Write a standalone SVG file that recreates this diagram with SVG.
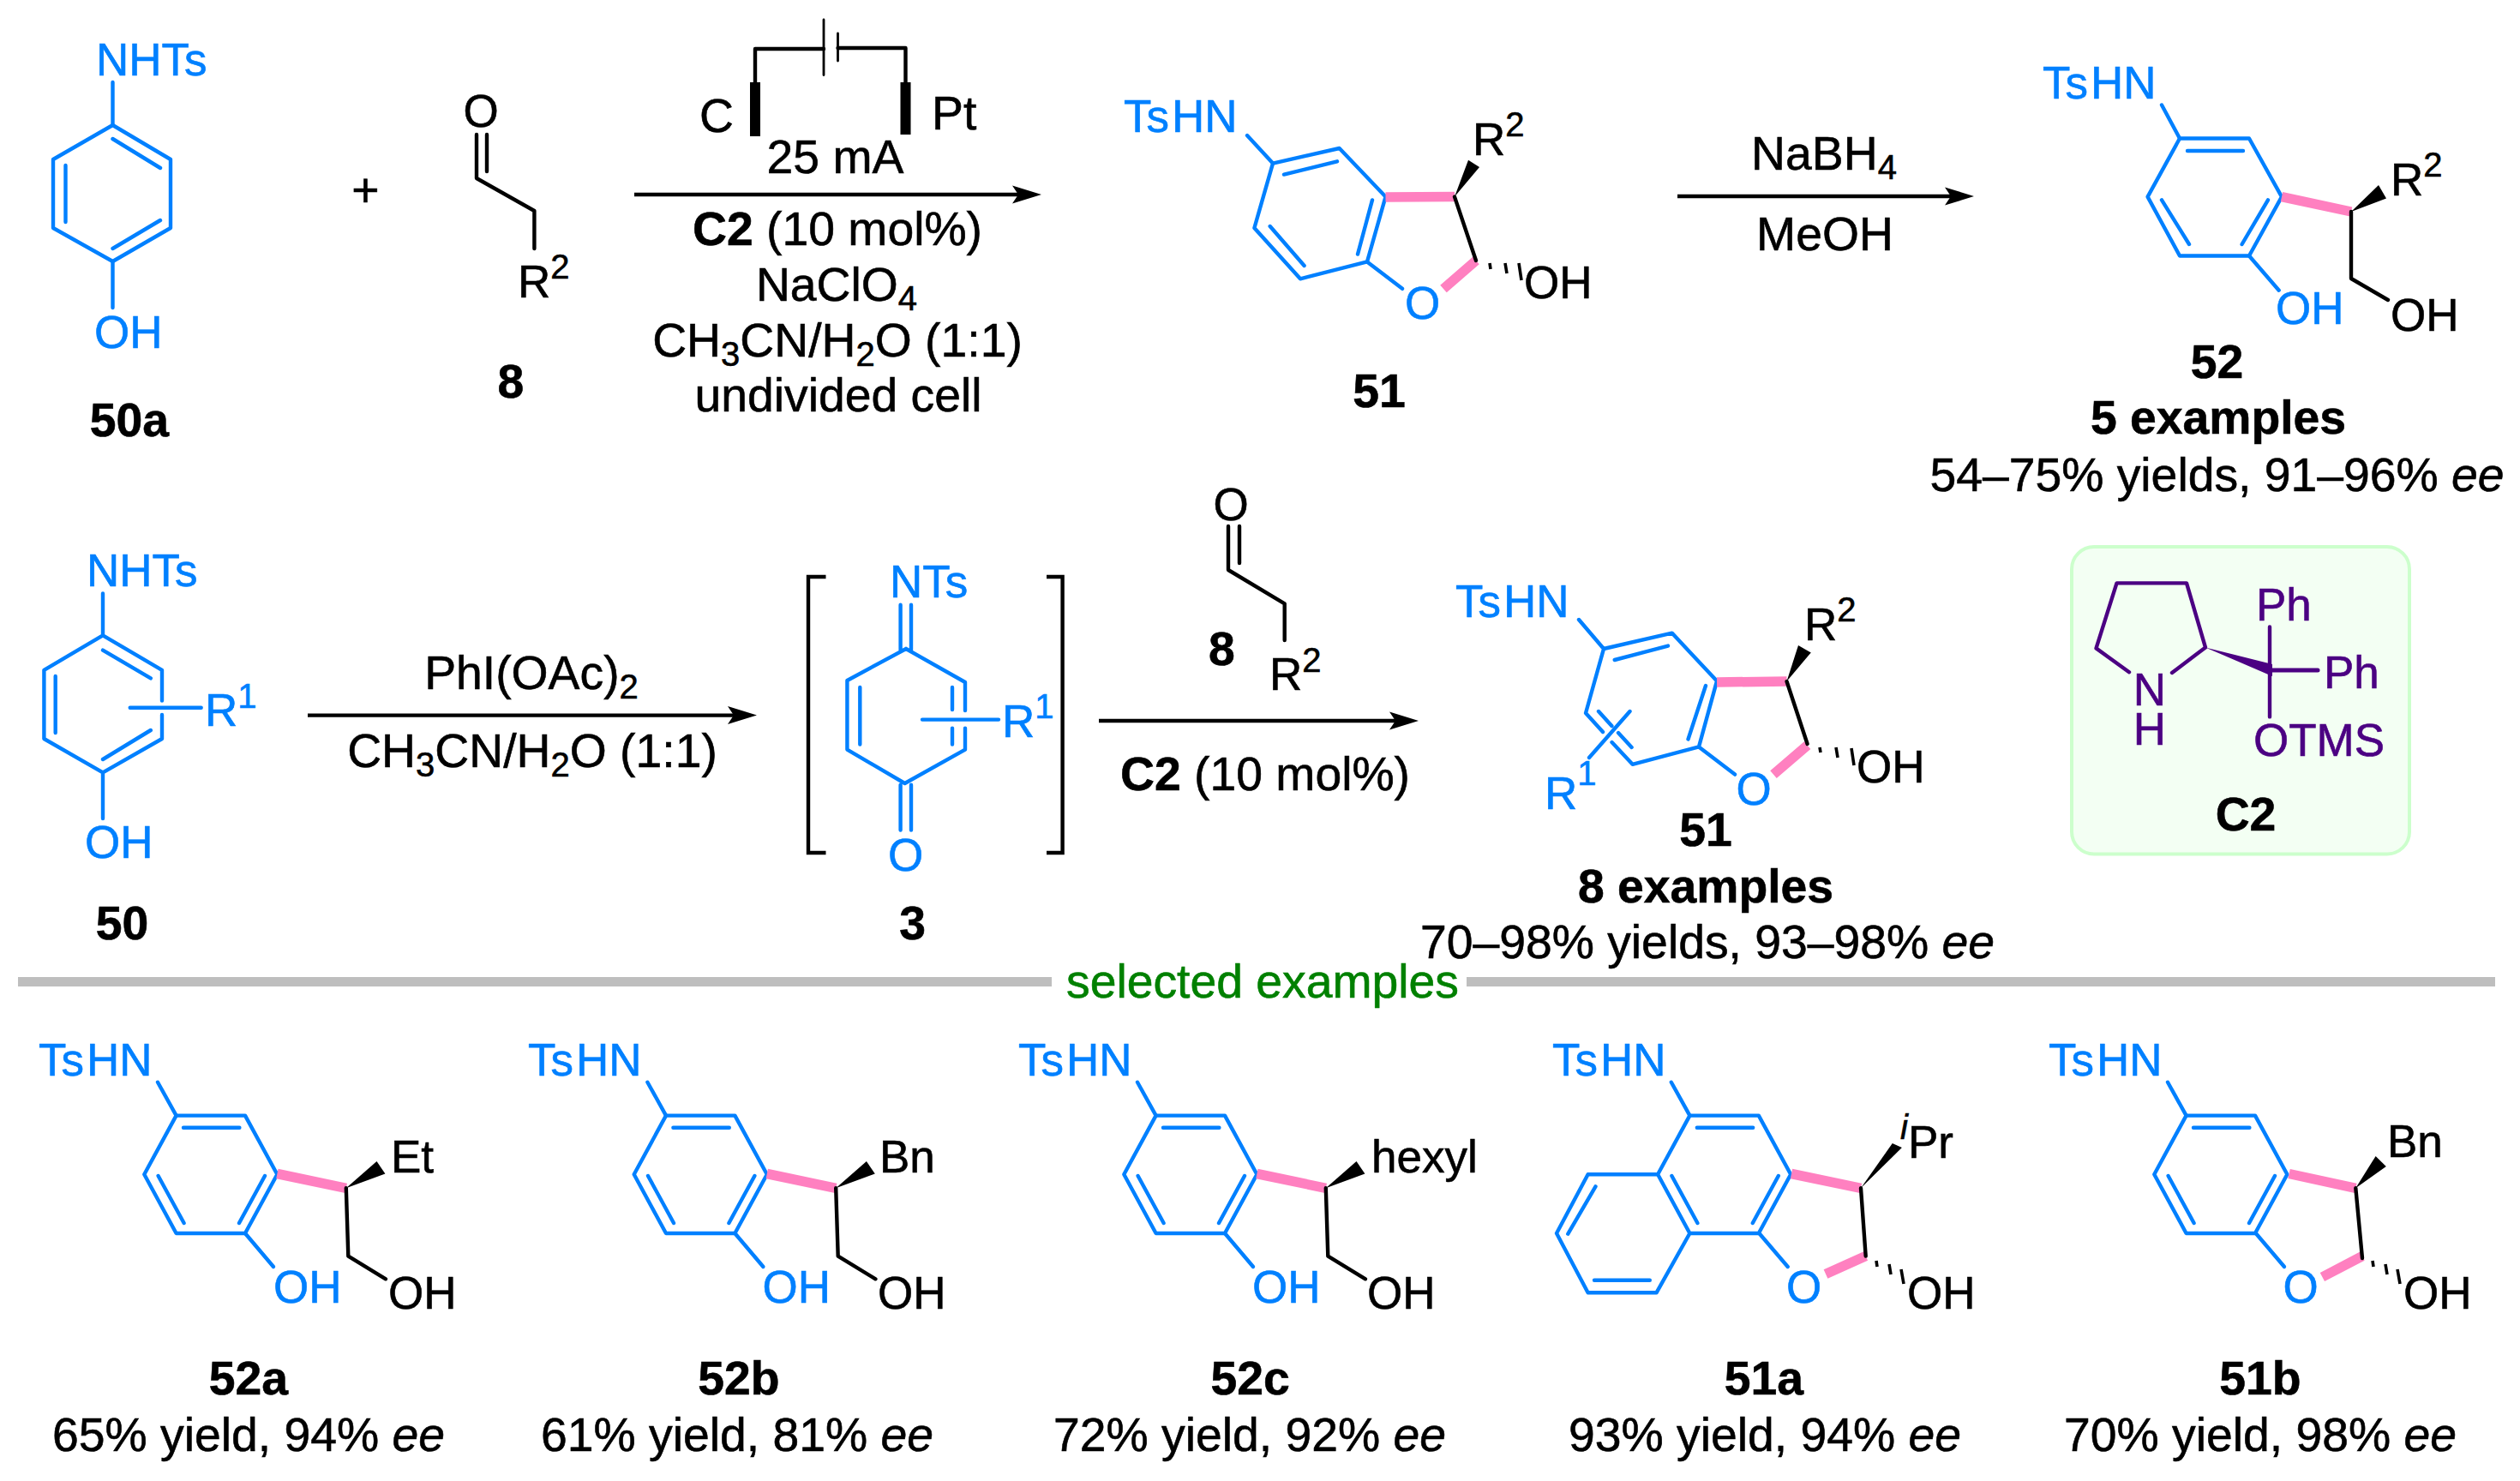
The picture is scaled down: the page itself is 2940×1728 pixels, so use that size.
<svg xmlns="http://www.w3.org/2000/svg" xmlns:xlink="http://www.w3.org/1999/xlink" width="2940" height="1728" viewBox="0 0 2940 1728">
<style>
text{font-family:"Liberation Sans",Arial,sans-serif;font-size:55.3px;fill:#000;stroke:#000;stroke-width:.6px}
.m{text-anchor:middle}
.B{font-weight:bold}
.c{font-size:53px}
.blue{fill:#0080FF;stroke:#0080FF}
.pur{fill:#4B0082;stroke:#4B0082}
.grn{fill:#008000;stroke:#008000}
.i{font-style:italic}
.s{font-size:40px}
.bl{stroke:#0080FF;stroke-width:4.4;fill:none;stroke-linecap:round;stroke-linejoin:round}
.kl{stroke:#000;stroke-width:4.4;fill:none;stroke-linecap:round;stroke-linejoin:round}
.hl{stroke:#000;stroke-width:3.6;fill:none;stroke-linecap:butt}
.pl{stroke:#4B0082;stroke-width:4.4;fill:none;stroke-linecap:round;stroke-linejoin:round}
.pk{stroke:#FF80C0;stroke-width:11.5;fill:none;stroke-linecap:butt}
.ar{stroke:#000;stroke-width:4.4;fill:none;stroke-linecap:butt}
.br{stroke:#000;stroke-width:4.4;fill:none;stroke-linecap:butt;stroke-linejoin:miter}
.el{stroke:#000;stroke-width:12;fill:none;stroke-linecap:butt}
.gy{fill:#BEBEBE}
</style>
<defs>
<marker id="head" markerUnits="userSpaceOnUse" markerWidth="36" markerHeight="24" refX="7" refY="12" orient="auto">
<path d="M34,12 L0,1.5 L7,12 L0,22.5 Z" fill="#000"/>
</marker>
<g id="aryl">
<polygon class="bl" points="205.6,1301.6 286,1301.6 323.4,1370.3 286,1439 205.6,1439 168.3,1370.3"/>
<path class="bl" d="M184,1262.7L205.6,1301.6M214,1315.7H279.4M309,1372L279,1427M184.6,1372L214.6,1427"/>
</g>
<g id="chain52">
<path class="pk" d="M323.4,1369.5L403.8,1386.3"/>
<path class="kl" d="M403.8,1386.3L406.3,1465.6L450,1492.3"/>
<polygon points="403.8,1386.3 439.5,1355 449.4,1369.5" fill="#000"/>
<path class="bl" d="M286,1439L319,1478"/>
</g>
<path id="hash" class="hl" d="M2189,1471l1,7M2204,1475l2,12M2218,1481l3,17"/>
</defs>

<g id="connectors">
<path class="ar" d="M740,227H1188" marker-end="url(#head)"/>
<path class="ar" d="M1957,229H2276" marker-end="url(#head)"/>
<path class="ar" d="M359,834.6H856" marker-end="url(#head)"/>
<path class="ar" d="M1282,841H1628" marker-end="url(#head)"/>
</g>

<g id="n50a">
<polygon class="bl" points="131.5,146 199,186 199,266 131.5,305 62,266 62,186"/>
<path class="bl" d="M131.5,96V146M131.5,162L187,196M76.5,193V259M131.5,290L187,257M131.5,305V359"/>
<text class="c blue" x="112" y="88">NHTs</text>
<text class="c blue" x="110" y="406">OH</text>
<text class="B m" x="151" y="509">50a</text>
</g>
<g id="plus"><text class="m" x="426.5" y="241">+</text></g>
<g id="n8top">
<path class="kl" d="M556,157V208L623.4,246V290M568,157V200"/>
<text class="c m" x="561" y="148">O</text>
<text class="c" x="604" y="347">R<tspan class="s" dy="-22">2</tspan></text>
<text class="B m" x="596" y="464">8</text>
</g>
<g id="cell">
<path class="kl" d="M881,96V57H961M977.5,56H1056.5V96"/>
<path class="kl" style="stroke-width:2.8" d="M961,23V87.5M977.5,39V71"/>
<path class="el" d="M881,96V159M1056.5,96V157"/>
<text x="816" y="154">C</text>
<text x="1087" y="151">Pt</text>
</g>
<g id="cond1">
<text class="m" x="974.5" y="202">25 mA</text>
<text class="m" x="977" y="286"><tspan class="B">C2</tspan> (10 mol%)</text>
<text class="m" x="976" y="351">NaClO<tspan class="s" dy="11">4</tspan></text>
<text class="m" x="977" y="416">CH<tspan class="s" dy="11">3</tspan><tspan dy="-11">CN/H</tspan><tspan class="s" dy="11">2</tspan><tspan dy="-11">O (1:1)</tspan></text>
<text class="m" x="978" y="480">undivided cell</text>
</g>
<g id="n51top">
<polygon class="bl" points="1485,190.6 1562.6,173 1616.5,229.6 1595,305.4 1517,325.3 1463.4,266"/>
<path class="bl" d="M1455,158L1485,190.6M1498,203.6L1560,188.3M1601,233.4L1584,296.6M1481.7,264L1521.6,310M1595,305.4L1636,336.8"/>
<path class="pk" d="M1616.5,230L1697,229.6M1722,304L1684,337"/>
<path class="kl" d="M1697,229.6L1722,304"/>
<polygon points="1697,229.6 1713,186.8 1726,195" fill="#000"/>
<path class="hl" d="M1738,307l1,7M1756,307l2,12M1772,307l3,20"/>
<text class="c blue" x="1311" y="154">Ts<tspan dx="3">HN</tspan></text>
<text class="c m blue" x="1659.6" y="372">O</text>
<text class="c" x="1718" y="181">R<tspan class="s" dy="-22">2</tspan></text>
<text class="c" x="1778" y="347.5">OH</text>
<text class="B m" x="1609" y="475">51</text>
</g>
<g id="cond2">
<text class="m" x="2128" y="198">NaBH<tspan class="s" dy="11">4</tspan></text>
<text class="m" x="2129" y="291.6">MeOH</text>
</g>
<g id="n52">
<polygon class="bl" points="2543,161.5 2624,161.5 2662,229.6 2624,298.5 2543,298.5 2505.6,229.6"/>
<path class="bl" d="M2522,122.5L2543,161.5M2552,176H2617M2646,233.4L2615.6,285M2522,233.4L2554,285M2624,298.5L2658.7,338.7"/>
<path class="pk" d="M2662,229.6L2743,247"/>
<path class="kl" d="M2743,247V325L2786,350"/>
<polygon points="2743,247 2775,216 2784,231.5" fill="#000"/>
<text class="c blue" x="2383" y="115">Ts<tspan dx="3">HN</tspan></text>
<text class="c blue" x="2655" y="378">OH</text>
<text class="c" x="2789" y="386">OH</text>
<text class="c" x="2789" y="227.7">R<tspan class="s" dy="-22">2</tspan></text>
<text class="B m" x="2586.5" y="441">52</text>
<text class="B m" x="2588" y="506">5 examples</text>
<text class="m" x="2586.5" y="572.5">54–75% yields, 91–96% <tspan class="i">ee</tspan></text>
</g>
<g id="n50">
<path class="bl" d="M120,692.5V741.4L189,781.8V817.5M189,834V862L120,901.4L51.4,862V781.8L120,741.4M120,758.6L175.8,791.4M64.7,789V855M120,886L175.8,852M120,901.4V955M151.7,825.7H234.7"/>
<text class="c blue" x="101" y="684.3">NHTs</text>
<text class="c blue" x="239" y="847">R<tspan class="s" dy="-21">1</tspan></text>
<text class="c blue" x="99" y="1001.4">OH</text>
<text class="B m" x="142.6" y="1096">50</text>
</g>
<g id="cond3">
<text class="m" x="620" y="804">PhI(OAc)<tspan class="s" dy="11">2</tspan></text>
<text class="m" x="621" y="895">CH<tspan class="s" dy="11">3</tspan><tspan dy="-11">CN/H</tspan><tspan class="s" dy="11">2</tspan><tspan dy="-11">O (1:1)</tspan></text>
</g>
<g id="n3">
<path class="br" d="M963.5,673H943V995H963.5M1221,673H1239.6V995H1221"/>
<path class="bl" d="M1050.6,705.7V758.6M1063,705.7V758.6M1057,757L1126,796V829M1126,849.6V874.6L1055.6,914L988.4,874.6V794L1057,757M1003.3,802V868.6M1111,802V828M1111,849.6V868.6M1076,839.6H1165M1050.6,915.7V968.6M1063,915.7V968.6"/>
<text class="c blue" x="1038" y="697">NTs</text>
<text class="c blue" x="1169" y="860">R<tspan class="s" dy="-22">1</tspan></text>
<text class="c m blue" x="1056.5" y="1015.7">O</text>
<text class="B m" x="1064.7" y="1096">3</text>
</g>
<g id="n8mid">
<path class="kl" d="M1433,614V665L1498.7,704.3V747M1446,614V657"/>
<text class="c m" x="1436" y="607">O</text>
<text class="c" x="1481" y="805">R<tspan class="s" dy="-21">2</tspan></text>
<text class="B m" x="1425.5" y="776">8</text>
</g>
<g id="cond4"><text class="m" x="1476" y="922"><tspan class="B">C2</tspan> (10 mol%)</text></g>
<g id="n51mid">
<path class="bl" d="M1842,723L1871,757L1950.6,738.6L2003,794.6L1982,871.4L1904.6,891.8L1880.5,866M1870,854L1850,832L1871,757M1883.7,770L1946,753.6M1990,800L1969.5,862.5M1865,830L1880.4,847M1888,855L1903.6,872M1982,871.4L2024,903.6M1901.5,830L1854,884"/>
<path class="pk" d="M2003,796L2084.5,795M2108.6,869.6L2069,903.6"/>
<path class="kl" d="M2084.5,795L2108.6,868"/>
<polygon points="2084.5,795 2098,753 2112.8,761.4" fill="#000"/>
<path class="hl" d="M2123,872l1,6M2142,872l2,12M2160,873l3,20"/>
<text class="c blue" x="1698" y="720">Ts<tspan dx="3">HN</tspan></text>
<text class="c m blue" x="2046" y="938.6">O</text>
<text class="c" x="2105" y="747">R<tspan class="s" dy="-22">2</tspan></text>
<text class="c" x="2166" y="913">OH</text>
<text class="c blue" x="1802" y="944">R<tspan class="s" dy="-28">1</tspan></text>
<text class="B m" x="1990" y="987">51</text>
<text class="B m" x="1990" y="1052.5">8 examples</text>
<text class="m" x="1992" y="1118">70–98% yields, 93–98% <tspan class="i">ee</tspan></text>
</g>
<g id="C2">
<rect x="2417" y="638" width="394" height="358.5" rx="26" ry="26" fill="#F3FFF3" stroke="#CCFFCC" stroke-width="4"/>
<path class="pl" d="M2484,784.3L2445.5,756.4L2469.5,680.4H2551L2573,755.4L2534,785M2648,731.4V836.4"/>
<path class="pl" style="stroke-width:5" d="M2649,782H2704"/>
<polygon points="2573,755.4 2651,775 2651,789" fill="#4B0082"/>
<text class="c m pur" x="2508" y="823"><tspan x="2508">N</tspan><tspan x="2508" dy="46">H</tspan></text>
<text class="c pur" x="2632" y="724">Ph</text>
<text class="c pur" x="2711" y="803">Ph</text>
<text class="c pur" x="2629" y="882">OTMS</text>
<text class="B m" x="2620" y="969">C2</text>
</g>
<g id="divider">
<rect class="gy" x="21" y="1140" width="1206" height="11"/>
<rect class="gy" x="1711" y="1140" width="1200" height="11"/>
<text class="m grn" x="1473" y="1164">selected examples</text>
</g>
<g id="n52a">
<use href="#aryl" xlink:href="#aryl"/><use href="#chain52" xlink:href="#chain52"/>
<text class="c blue" x="45" y="1255">Ts<tspan dx="3">HN</tspan></text>
<text class="c blue" x="319" y="1520">OH</text>
<text class="c" x="453" y="1526.5">OH</text>
<text class="c" x="456" y="1368">Et</text>
<text class="B m" x="290" y="1627">52a</text>
<text class="m" x="290" y="1693">65% yield, 94% <tspan class="i">ee</tspan></text>
</g>
<g id="n52b">
<g transform="translate(571.4 0)"><use href="#aryl" xlink:href="#aryl"/><use href="#chain52" xlink:href="#chain52"/></g>
<text class="c blue" x="616" y="1255">Ts<tspan dx="3">HN</tspan></text>
<text class="c blue" x="889.5" y="1520">OH</text>
<text class="c" x="1024" y="1526.5">OH</text>
<text class="c" x="1026" y="1368">Bn</text>
<text class="B m" x="862" y="1627">52b</text>
<text class="m" x="860" y="1693">61% yield, 81% <tspan class="i">ee</tspan></text>
</g>
<g id="n52c">
<g transform="translate(1143 0)"><use href="#aryl" xlink:href="#aryl"/><use href="#chain52" xlink:href="#chain52"/></g>
<text class="c blue" x="1188" y="1255">Ts<tspan dx="3">HN</tspan></text>
<text class="c blue" x="1461" y="1520">OH</text>
<text class="c" x="1595" y="1526.5">OH</text>
<text class="c" x="1600" y="1368">hexyl</text>
<text class="B m" x="1458.6" y="1627">52c</text>
<text class="m" x="1458" y="1693">72% yield, 92% <tspan class="i">ee</tspan></text>
</g>
<g id="n51a">
<use href="#aryl" xlink:href="#aryl" transform="translate(1765.8 0)"/>
<path class="bl" d="M1932.5,1370.3H1852.6L1816,1439L1852.6,1508.3H1932.5L1971.4,1439M1861.5,1384.4L1829.3,1439.7M1860,1493.8H1924.8M2052.4,1439L2085.7,1478"/>
<path class="pk" d="M2090,1369.5L2171,1386.3M2176.7,1465.6L2130,1486.6"/>
<path class="kl" d="M2171,1386.3L2176.7,1465.6"/>
<polygon points="2171,1386.3 2207.8,1334 2218.9,1339" fill="#000"/>
<use href="#hash" xlink:href="#hash"/>
<text class="c blue" x="1811" y="1255">Ts<tspan dx="3">HN</tspan></text>
<text class="c m blue" x="2104.5" y="1520">O</text>
<text class="c" x="2217" y="1351"><tspan class="s i" dy="-22">i</tspan><tspan dy="22">Pr</tspan></text>
<text class="c" x="2225" y="1526.5">OH</text>
<text class="B m" x="2058" y="1627">51a</text>
<text class="m" x="2059" y="1693">93% yield, 94% <tspan class="i">ee</tspan></text>
</g>
<g id="n51b">
<use href="#aryl" xlink:href="#aryl" transform="translate(2345 0)"/>
<path class="bl" d="M2631.8,1439L2665,1478"/>
<path class="pk" d="M2670.6,1369.5L2748.3,1386.3M2756,1465.6L2709.4,1490"/>
<path class="kl" d="M2748.3,1386.3L2756,1468"/>
<polygon points="2748.3,1386.3 2771.6,1349 2783.8,1361" fill="#000"/>
<use href="#hash" xlink:href="#hash" transform="translate(579 0)"/>
<text class="c blue" x="2390" y="1255">Ts<tspan dx="3">HN</tspan></text>
<text class="c m blue" x="2684" y="1520">O</text>
<text class="c" x="2785" y="1350">Bn</text>
<text class="c" x="2804" y="1526.5">OH</text>
<text class="B m" x="2637" y="1627">51b</text>
<text class="m" x="2637" y="1693">70% yield, 98% <tspan class="i">ee</tspan></text>
</g>
</svg>
